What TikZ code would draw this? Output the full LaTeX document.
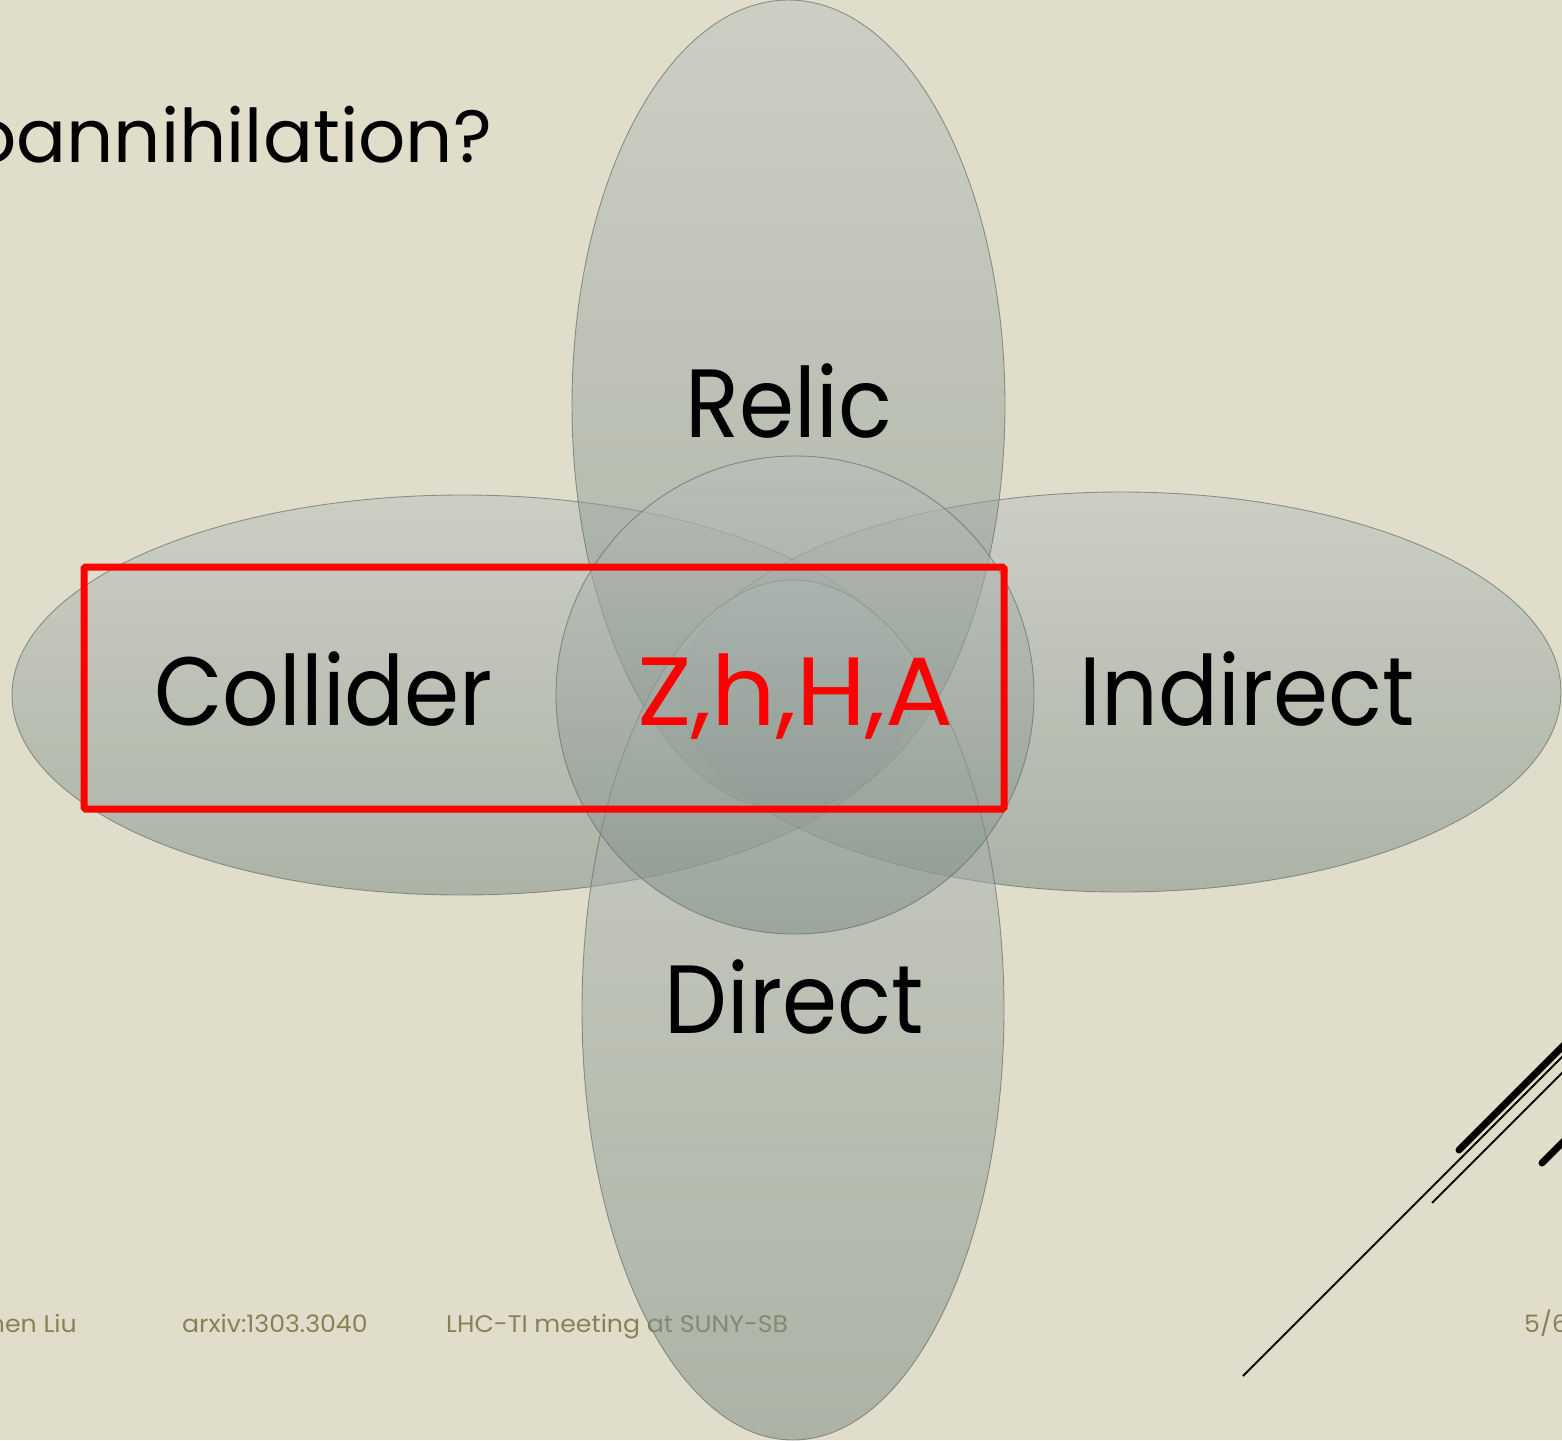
\documentclass[tikz,border=0pt]{standalone}
\usepackage{fontspec}
\setmainfont{Poppins}
\newfontfamily\narrowfont[FakeStretch=0.915]{Poppins}
\newfontfamily\widefont[FakeStretch=1.05]{Poppins}
\definecolor{bg}{RGB}{224,222,203}
\definecolor{shtop}{RGB}{186,192,189}
\definecolor{shbot}{RGB}{122,138,130}
\definecolor{edgec}{RGB}{105,112,106}
\definecolor{footc}{RGB}{135,130,85}
\definecolor{pured}{RGB}{255,0,0}
\begin{document}
\begin{tikzpicture}[x=1pt,y=-1pt,
  blob/.style={top color=shtop, bottom color=shbot, fill opacity=0.5, draw=edgec, draw opacity=0.7, line width=0.9pt},
  biglbl/.style={font=\narrowfont\fontsize{97}{110}\selectfont, inner sep=0pt, anchor=base},
  foottext/.style={font=\widefont\fontsize{24}{28}\selectfont, text=footc, inner sep=0pt},
  titletext/.style={font=\fontsize{74}{88}\selectfont, inner sep=0pt},
  thinline/.style={line width=2pt, black},
  thickline/.style={line width=7pt, black, line cap=round}]
\useasboundingbox (0,0) rectangle (1562,1440);
\clip (0,0) rectangle (1562,1440);
\fill[bg] (0,0) rectangle (1562,1440);
% footer
\node[foottext, anchor=base east] (author) at (77,1332) {Zhen Liu};
\node[foottext, anchor=base west] (arxiv) at (182,1332) {arxiv:1303.3040};
\node[foottext, anchor=base west] (meeting) at (446,1332) {LHC-TI meeting at SUNY-SB};
\node[foottext, anchor=base west] (page) at (1524,1332) {5/6};
% title
\node[titletext, anchor=base east] (title) at (492,162) {coannihilation?};
% decorative lines
\coordinate (la) at (1243,1376); \coordinate (lb) at (1580,1039);
\coordinate (ta) at (1459,1150); \coordinate (tb) at (1580,1029);
\coordinate (ma) at (1432,1203); \coordinate (mb) at (1580,1055);
\coordinate (sa) at (1542,1163); \coordinate (sb) at (1580,1125);
\draw[thinline] (la) -- (lb);
\draw[thinline] (ma) -- (mb);
\draw[thickline] (ta) -- (tb);
\draw[thickline] (sa) -- (sb);
% ellipses
\shade[blob] (462,695) ellipse [x radius=450, y radius=200];
\shade[blob] (1121,692) ellipse [x radius=440, y radius=200];
\shade[blob] (788.5,405) ellipse [x radius=216.5, y radius=405];
\shade[blob] (793,1010) ellipse [x radius=211, y radius=430];
\shade[blob] (795,695) circle [radius=239];
% labels
\node[biglbl] (relic) at (789,437) {Relic};
\node[biglbl] (collider) at (323.5,725) {Collider};
\node[biglbl] (indirect) at (1247,725) {Indirect};
\node[biglbl] (direct) at (794,1033) {Direct};
\node[biglbl, font=\fontsize{97}{110}\selectfont, text=pured] (zhha) at (795.5,725) {\scalebox{1.04}[1]{Z,h,H,A}};
% red box
\node[draw=pured, line width=7pt, rounded corners=1.5pt, minimum width=920pt, minimum height=242pt, inner sep=0pt] (box) at (544,688) {};
\end{tikzpicture}
\end{document}
